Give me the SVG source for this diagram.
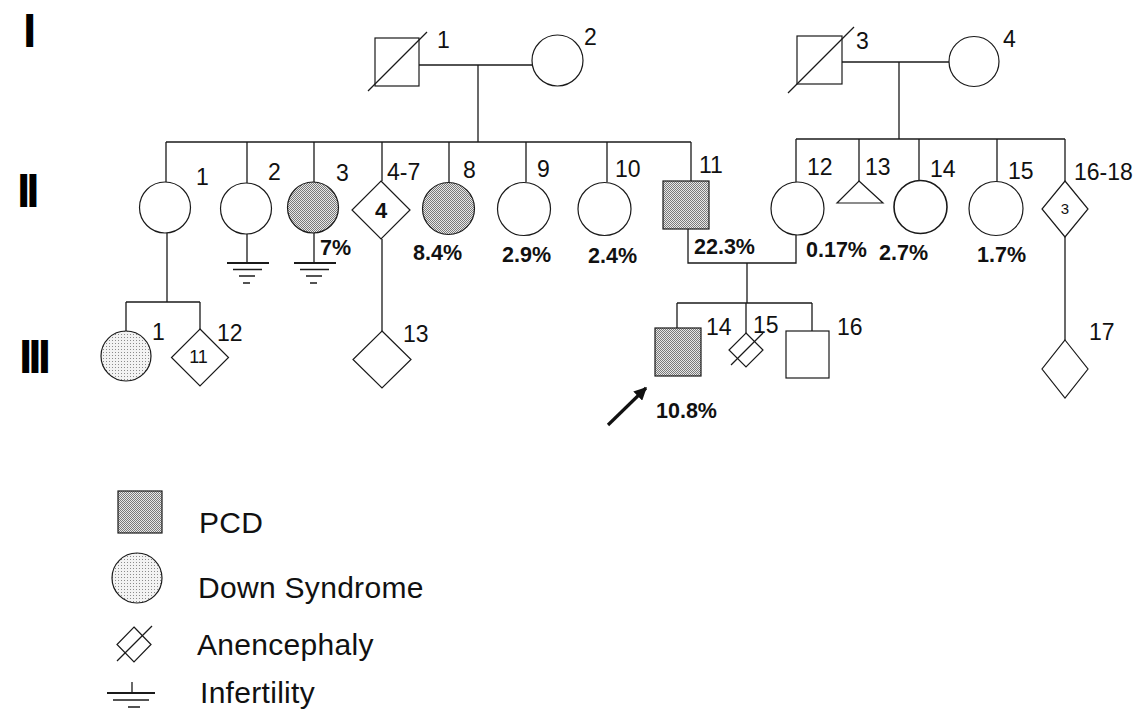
<svg xmlns="http://www.w3.org/2000/svg" width="1148" height="716" viewBox="0 0 1148 716">
  <style>
    .sym { fill: #ffffff; stroke: #1a1a1a; stroke-width: 1.2; }
    .pcd { fill: url(#hatch); stroke: #1a1a1a; stroke-width: 1.2; }
    .ds { fill: url(#dots); stroke: #1a1a1a; stroke-width: 1.2; }
    .ln { fill: none; stroke: #1a1a1a; stroke-width: 1.3; }
    .lab { font-family: "Liberation Sans", Arial, sans-serif; font-size: 23px; fill: #111; }
    .pct { font-family: "Liberation Sans", Arial, sans-serif; font-size: 21.5px; font-weight: bold; fill: #111; }
    .gen { font-family: "Liberation Sans", Arial, sans-serif; font-size: 48px; font-weight: bold; fill: #000; letter-spacing: -4px; }
    .leg { font-family: "Liberation Sans", Arial, sans-serif; font-size: 30px; fill: #111; letter-spacing: 0.3px; }
    .gnd { stroke: #1a1a1a; stroke-width: 1.5; }
  </style>
  <defs>
    <pattern id="hatch" width="2" height="2" patternUnits="userSpaceOnUse">
      <rect width="2" height="2" fill="#e8e8e8"/>
      <rect width="1" height="1" fill="#7a7a7a"/>
      <rect x="1" y="1" width="1" height="1" fill="#7a7a7a"/>
    </pattern>
    <pattern id="dots" width="3" height="3" patternUnits="userSpaceOnUse">
      <rect width="3" height="3" fill="#f3f3f3"/>
      <rect x="1" y="1" width="1" height="1" fill="#8c8c8c"/>
    </pattern>
    <marker id="head" viewBox="0 0 10 10" refX="9" refY="5" markerWidth="4" markerHeight="4" orient="auto">
      <path d="M0,0 L10,5 L0,10 Z" fill="#111"/>
    </marker>
  </defs>

  <rect width="1148" height="716" fill="#ffffff"/>

  <!-- generation numerals -->
  <g id="generations">
    <text class="gen" x="23" y="47">I</text>
    <text class="gen" x="17" y="207">II</text>
    <text class="gen" x="19" y="373">III</text>
  </g>

  <!-- connectors: couple lines, sibships, descent lines -->
  <g id="connectors" class="ln">
    <!-- I-1 x I-2 -->
    <path d="M419,65 H532"/>
    <path d="M478,65 V142"/>
    <path d="M166,142 H691"/>
    <path d="M166,142 V182"/>
    <path d="M247,142 V183"/>
    <path d="M314,142 V182"/>
    <path d="M382,142 V181"/>
    <path d="M449,142 V183"/>
    <path d="M526,142 V182"/>
    <path d="M607,142 V182"/>
    <path d="M691,142 V181"/>
    <!-- I-3 x I-4 -->
    <path d="M842,62 H949"/>
    <path d="M899,62 V139"/>
    <path d="M796,139 H1065"/>
    <path d="M796,139 V182"/>
    <path d="M859,139 V181"/>
    <path d="M919,139 V180"/>
    <path d="M997,139 V182"/>
    <path d="M1065,139 V181"/>
    <!-- II-11 x II-12 -->
    <path d="M688,229 V263 H796 V235"/>
    <path d="M747,263 V303"/>
    <path d="M677,303 H812"/>
    <path d="M677,303 V328"/>
    <path d="M746,303 V333"/>
    <path d="M812,303 V331"/>
    <!-- II-1 offspring -->
    <path d="M167,233 V302"/>
    <path d="M126,302 H200"/>
    <path d="M126,302 V331"/>
    <path d="M200,302 V329"/>
    <!-- II-4-7 offspring -->
    <path d="M382,239 V331"/>
    <!-- II-16-18 offspring -->
    <path d="M1065,237 V340"/>
    <!-- infertility stems -->
    <path d="M247,234 V263"/>
    <path d="M314,233 V263"/>
  </g>

  <!-- generation I -->
  <g id="I-1">
    <rect class="sym" x="375" y="38" width="44" height="48"/>
    <path class="ln" d="M368,91 L427,32"/>
    <text class="lab" x="437" y="48">1</text>
  </g>
  <g id="I-2">
    <circle class="sym" cx="557.5" cy="60.5" r="25.5"/>
    <text class="lab" x="584" y="45">2</text>
  </g>
  <g id="I-3">
    <rect class="sym" x="797" y="36" width="45" height="48"/>
    <path class="ln" d="M788,93 L854,27"/>
    <text class="lab" x="856" y="49">3</text>
  </g>
  <g id="I-4">
    <circle class="sym" cx="974" cy="61.5" r="25"/>
    <text class="lab" x="1003" y="47">4</text>
  </g>

  <!-- generation II -->
  <g id="II-1">
    <circle class="sym" cx="165" cy="207.5" r="25.5"/>
    <text class="lab" x="196" y="185">1</text>
  </g>
  <g id="II-2">
    <circle class="sym" cx="246" cy="208.5" r="25.5"/>
    <text class="lab" x="268" y="180">2</text>
    <g class="gnd">
      <path d="M227,263 H269" stroke-width="2.2"/>
      <path d="M233,269.5 H262"/>
      <path d="M239,276 H255"/>
      <path d="M243,283 H250"/>
    </g>
  </g>
  <g id="II-3">
    <circle class="pcd" cx="313" cy="207.5" r="25.5"/>
    <text class="lab" x="336" y="181">3</text>
    <text class="pct" x="320" y="255">7%</text>
    <g class="gnd">
      <path d="M294,263 H336" stroke-width="2.2"/>
      <path d="M300,269.5 H329"/>
      <path d="M306,276 H322"/>
      <path d="M310,283 H317"/>
    </g>
  </g>
  <g id="II-4-7">
    <path class="sym" d="M381,181 L410,210 L381,239 L352,210 Z"/>
    <text class="pct" x="381" y="218" text-anchor="middle" style="font-size:22px">4</text>
    <text class="lab" x="387" y="180">4-7</text>
  </g>
  <g id="II-8">
    <circle class="pcd" cx="448.5" cy="208.5" r="26"/>
    <text class="lab" x="463" y="178">8</text>
    <text class="pct" x="413" y="260">8.4%</text>
  </g>
  <g id="II-9">
    <circle class="sym" cx="524" cy="209" r="26.5"/>
    <text class="lab" x="537" y="177">9</text>
    <text class="pct" x="502" y="262">2.9%</text>
  </g>
  <g id="II-10">
    <circle class="sym" cx="604.5" cy="209" r="26.5"/>
    <text class="lab" x="615" y="177">10</text>
    <text class="pct" x="588" y="263">2.4%</text>
  </g>
  <g id="II-11">
    <rect class="pcd" x="663" y="181" width="46" height="48"/>
    <text class="lab" x="699" y="173">11</text>
    <text class="pct" x="694" y="254">22.3%</text>
  </g>
  <g id="II-12">
    <circle class="sym" cx="797.5" cy="208.5" r="26.5"/>
    <text class="lab" x="807" y="175">12</text>
    <text class="pct" x="806" y="257">0.17%</text>
  </g>
  <g id="II-13">
    <path class="sym" d="M859,181 L883,203 L837,203 Z"/>
    <text class="lab" x="865" y="175">13</text>
  </g>
  <g id="II-14">
    <circle class="sym" cx="920.5" cy="207" r="26.5" style="stroke-width:1.6"/>
    <text class="lab" x="930" y="177">14</text>
    <text class="pct" x="879" y="260">2.7%</text>
  </g>
  <g id="II-15">
    <circle class="sym" cx="996" cy="208.5" r="27"/>
    <text class="lab" x="1008" y="179">15</text>
    <text class="pct" x="977" y="262">1.7%</text>
  </g>
  <g id="II-16-18">
    <path class="sym" d="M1065,181 L1088,209 L1065,237 L1042,209 Z"/>
    <text class="lab" x="1065" y="214" text-anchor="middle" style="font-size:15px">3</text>
    <text class="lab" x="1074" y="180">16-18</text>
  </g>

  <!-- generation III -->
  <g id="III-1">
    <circle class="ds" cx="126" cy="356" r="25"/>
    <text class="lab" x="152" y="340">1</text>
  </g>
  <g id="III-12">
    <path class="sym" d="M200,329 L228.5,357.5 L200,386 L171.5,357.5 Z"/>
    <text class="lab" x="198.5" y="363" text-anchor="middle" style="font-size:18px">11</text>
    <text class="lab" x="217" y="341">12</text>
  </g>
  <g id="III-13">
    <path class="sym" d="M382,331 L411,359.5 L382,388 L353,359.5 Z"/>
    <text class="lab" x="403" y="342">13</text>
  </g>
  <g id="III-14">
    <rect class="pcd" x="655" y="328" width="46" height="48"/>
    <text class="lab" x="706" y="335">14</text>
    <text class="pct" x="656" y="418">10.8%</text>
    <path d="M608,425 L646,388" stroke="#111" stroke-width="3.2" fill="none" marker-end="url(#head)"/>
  </g>
  <g id="III-15">
    <path class="sym" d="M746,333 L763,350 L746,367 L729,350 Z"/>
    <path class="ln" d="M731,365 L763,333"/>
    <text class="lab" x="753" y="333">15</text>
  </g>
  <g id="III-16">
    <rect class="sym" x="786" y="331" width="43" height="47"/>
    <text class="lab" x="837" y="335">16</text>
  </g>
  <g id="III-17">
    <path class="sym" d="M1065,340 L1088,369 L1065,398 L1042,369 Z"/>
    <text class="lab" x="1089" y="340">17</text>
  </g>

  <!-- legend -->
  <g id="legend-pcd">
    <rect class="pcd" x="118" y="491" width="44" height="42"/>
    <text class="leg" x="199" y="533">PCD</text>
  </g>
  <g id="legend-down">
    <circle class="ds" cx="137" cy="578" r="25"/>
    <text class="leg" x="198" y="598">Down Syndrome</text>
  </g>
  <g id="legend-anencephaly">
    <path class="sym" d="M134,627 L151,644.5 L134,662 L117,644.5 Z"/>
    <path class="ln" d="M117,661 L152,626"/>
    <text class="leg" x="197" y="655">Anencephaly</text>
  </g>
  <g id="legend-infertility">
    <path class="ln" d="M132,682 V693"/>
    <g class="gnd">
      <path d="M107,693 H155" stroke-width="2"/>
      <path d="M113,700 H149"/>
      <path d="M128,707 H140"/>
    </g>
    <text class="leg" x="200" y="703">Infertility</text>
  </g>
</svg>
